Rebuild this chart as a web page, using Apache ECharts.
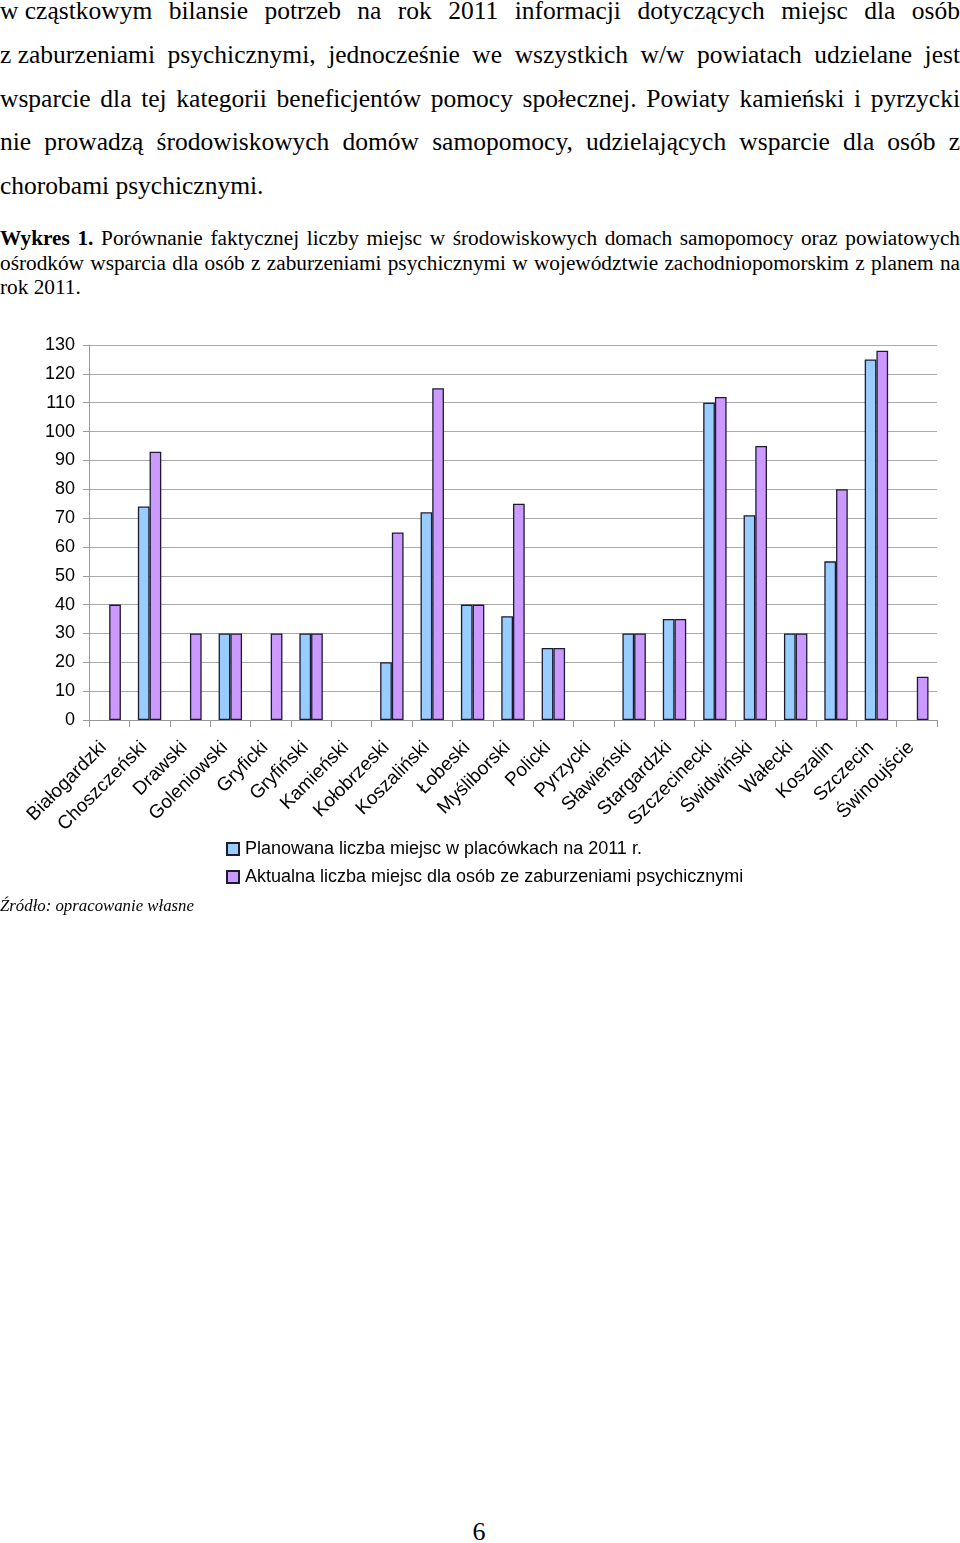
<!DOCTYPE html>
<html>
<head>
<meta charset="utf-8">
<script src="https://cdn.jsdelivr.net/npm/echarts@6/dist/echarts.min.js"></script>
<style>
html,body{margin:0;padding:0;background:#fff;}
body{width:960px;height:1543px;position:relative;overflow:hidden;font-family:"Liberation Serif","Times New Roman",serif;color:#000;}
.para{position:absolute;left:0;top:-11px;width:960px;font-size:25.5px;line-height:43.8px;}
.para div{text-align:justify;text-align-last:justify;}
.para div.last{text-align-last:left;}
.nb{display:inline-block;white-space:nowrap;}
.cap{position:absolute;left:0;top:226px;width:960px;font-size:21.3px;line-height:24.7px;}
.cap div{text-align:justify;text-align-last:justify;}
.cap div.last{text-align-last:left;}
.src{position:absolute;left:0;top:896px;font-size:16.8px;line-height:20px;font-style:italic;}
.pnum{position:absolute;left:446px;width:66px;text-align:center;top:1517px;font-size:26px;line-height:30px;}
#chart{position:absolute;left:0;top:330px;width:960px;height:600px;}
</style>
</head>
<body>
<div class="para">
<div><span class="nb">w cząstkowym</span> bilansie potrzeb na rok 2011 informacji dotyczących miejsc dla osób</div>
<div><span class="nb">z zaburzeniami</span> psychicznymi, jednocześnie we wszystkich w/w powiatach udzielane jest</div>
<div>wsparcie dla tej kategorii beneficjentów pomocy społecznej. Powiaty kamieński i pyrzycki</div>
<div>nie prowadzą środowiskowych domów samopomocy, udzielających wsparcie dla osób z</div>
<div class="last">chorobami psychicznymi.</div>
</div>
<div class="cap">
<div><b>Wykres 1.</b> Porównanie faktycznej liczby miejsc w środowiskowych domach samopomocy oraz powiatowych</div>
<div>ośrodków wsparcia dla osób z zaburzeniami psychicznymi w województwie zachodniopomorskim z planem na</div>
<div class="last">rok 2011.</div>
</div>
<div id="chart"></div>
<div class="src">Źródło: opracowanie własne</div>
<div class="pnum">6</div>
<script>
var categories = ['Białogardzki','Choszczeński','Drawski','Goleniowski','Gryficki','Gryfiński','Kamieński','Kołobrzeski','Koszaliński','Łobeski','Myśliborski','Policki','Pyrzycki','Sławieński','Stargardzki','Szczecinecki','Świdwiński','Wałecki','Koszalin','Szczecin','Świnoujście'];
var plannedPlaces = [null,74,null,30,null,30,null,20,72,40,36,25,null,30,35,110,71,30,55,125,null];
var actualPlaces = [40,93,30,30,30,30,null,65,115,40,75,25,null,30,35,112,95,30,80,128,15];
var seriesNames = ['Planowana liczba miejsc w placówkach na 2011 r.','Aktualna liczba miejsc dla osób ze zaburzeniami psychicznymi'];
var yMin = 0, yMax = 130, yStep = 10;

var chart = echarts.init(document.getElementById('chart'), null, {renderer:'canvas'});
var font = '"Liberation Sans", Arial, sans-serif';
chart.setOption({
  animation:false,
  backgroundColor:'#ffffff',
  textStyle:{fontFamily:font,color:'#000'},
  grid:{left:89,right:23,top:15,height:375,containLabel:false},
  legend:{
    orient:'vertical',left:226,top:510,padding:0,
    itemWidth:12,itemHeight:12,itemGap:10,
    icon:'rect',
    textStyle:{fontFamily:font,fontSize:18,color:'#000',padding:[0,0,0,1]},
    data:seriesNames
  },
  xAxis:{
    type:'category',data:categories,
    axisLine:{show:true,lineStyle:{color:'#999',width:1}},
    axisTick:{show:true,length:7,lineStyle:{color:'#999'}},
    axisLabel:{interval:0,rotate:45,fontFamily:font,fontSize:19,color:'#000',margin:19,padding:[0,8,0,0]}
  },
  yAxis:{
    type:'value',min:yMin,max:yMax,interval:yStep,
    axisLine:{show:true,lineStyle:{color:'#999',width:1}},
    axisTick:{show:true,length:6,lineStyle:{color:'#999'}},
    axisLabel:{fontFamily:font,fontSize:18,color:'#000',margin:14},
    splitLine:{show:true,lineStyle:{color:'#aaa',width:1}}
  },
  series:[
    {name:seriesNames[0],type:'bar',data:plannedPlaces,barGap:'0%',barCategoryGap:'42%',
     itemStyle:{color:'#99ccff',borderColor:'#1c1c30',borderWidth:1.3}},
    {name:seriesNames[1],type:'bar',data:actualPlaces,barGap:'0%',barCategoryGap:'42%',
     itemStyle:{color:'#cc99ff',borderColor:'#1c1c30',borderWidth:1.3}}
  ]
});
</script>
</body>
</html>
